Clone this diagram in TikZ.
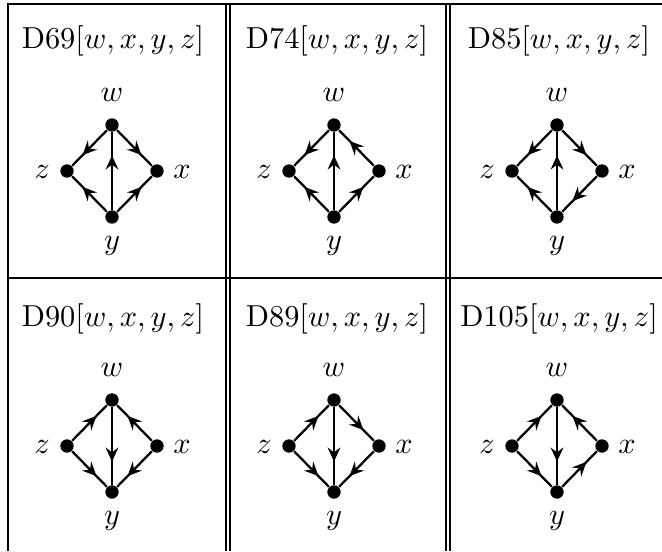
\documentclass[tikz,border=0pt]{standalone}
\usetikzlibrary{decorations.markings,arrows.meta}
\tikzset{
  dot/.style={circle,fill=black,inner sep=0pt,minimum size=4.4pt},
  lab/.style={inner sep=0pt,anchor=base},
  rule/.style={line width=0.4pt},
  arr/.style={line width=0.75pt,postaction={decorate},
    decoration={markings,mark=at position 0.7 with {\arrow{Stealth[length=4.6pt,width=4.2pt,inset=1.6pt]}}}},
}
\newcommand\mydiag[3]{%
  \node[dot] (#1w) at (#2,#3-46) {};
  \node[dot] (#1z) at (#2-45,#3) {};
  \node[dot] (#1x) at (#2+45,#3) {};
  \node[dot] (#1y) at (#2,#3+46) {};
  \node[lab] (#1lw) at (#2,#3-70) {$w$};
  \node[lab] (#1lz) at (#2-70,#3+7) {$z$};
  \node[lab] (#1lx) at (#2+70,#3+7) {$x$};
  \node[lab] (#1ly) at (#2,#3+78) {$y$};
}
\begin{document}
\begin{tikzpicture}[x=0.3293pt,y=-0.3293pt]
\useasboundingbox (0,0) rectangle (662,551);
% table rules
\draw[rule] (8,551) -- (8,4) -- (662,4);
\draw[rule] (8,278) -- (662,278);
\draw[rule] (226,4) -- (226,551);
\draw[rule] (230,4) -- (230,551);
\draw[rule] (446,4) -- (446,551);
\draw[rule] (450,4) -- (450,551);
% titles
\node[lab] (t1) at (113,48) {D69$[w,x,y,z]$};
\node[lab] (t2) at (337,48) {D74$[w,x,y,z]$};
\node[lab] (t3) at (559,48) {D85$[w,x,y,z]$};
\node[lab] (t4) at (113,326) {D90$[w,x,y,z]$};
\node[lab] (t5) at (337,326) {D89$[w,x,y,z]$};
\node[lab] (t6) at (559,326) {D105$[w,x,y,z]$};
% diagrams
\mydiag{a}{112}{171}
\mydiag{b}{334}{171}
\mydiag{c}{557}{171}
\mydiag{d}{112}{446}
\mydiag{e}{334}{446}
\mydiag{f}{557}{446}
% D69
\draw[arr] (aw) -- (az);
\draw[arr] (aw) -- (ax);
\draw[arr] (ay) -- (aw);
\draw[arr] (ay) -- (az);
\draw[arr] (ay) -- (ax);
% D74
\draw[arr] (bw) -- (bz);
\draw[arr] (bx) -- (bw);
\draw[arr] (by) -- (bw);
\draw[arr] (by) -- (bz);
\draw[arr] (by) -- (bx);
% D85
\draw[arr] (cw) -- (cz);
\draw[arr] (cw) -- (cx);
\draw[arr] (cy) -- (cw);
\draw[arr] (cy) -- (cz);
\draw[arr] (cx) -- (cy);
% D90
\draw[arr] (dz) -- (dw);
\draw[arr] (dx) -- (dw);
\draw[arr] (dw) -- (dy);
\draw[arr] (dz) -- (dy);
\draw[arr] (dx) -- (dy);
% D89
\draw[arr] (ez) -- (ew);
\draw[arr] (ew) -- (ex);
\draw[arr] (ew) -- (ey);
\draw[arr] (ez) -- (ey);
\draw[arr] (ex) -- (ey);
% D105
\draw[arr] (fz) -- (fw);
\draw[arr] (fx) -- (fw);
\draw[arr] (fw) -- (fy);
\draw[arr] (fz) -- (fy);
\draw[arr] (fy) -- (fx);
\end{tikzpicture}
\end{document}
